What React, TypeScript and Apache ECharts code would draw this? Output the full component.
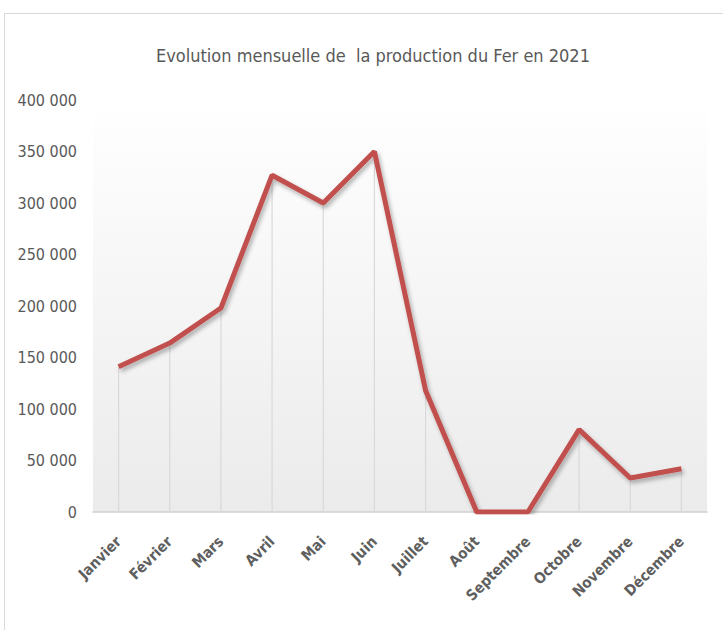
import React, { useEffect, useRef } from "react";
import * as echarts from "echarts";

const titleText = "Evolution mensuelle de  la production du Fer en 2021";
const months = ["Janvier", "Février", "Mars", "Avril", "Mai", "Juin", "Juillet", "Août", "Septembre", "Octobre", "Novembre", "Décembre"];
const production = [141000, 164000, 198000, 327000, 300000, 350000, 118000, 0, 0, 80000, 33000, 42000];
const yMin = 0;
const yMax = 400000;
const yStep = 50000;

const fmt = (v: number) => String(v).replace(/\B(?=(\d{3})+(?!\d))/g, " ");

export default function App() {
  const ref = useRef<HTMLDivElement>(null);
  useEffect(() => {
    if (!ref.current) return;
    const chart = echarts.init(ref.current, null, { renderer: "svg" });
    const font = "'DejaVu Sans Condensed', 'Open Sans', sans-serif";
    chart.setOption({
      animation: false,
      backgroundColor: "#ffffff",
      title: {
        text: titleText,
        left: 368,
        textAlign: "center",
        top: 41,
        textStyle: { color: "#595959", fontSize: 18, fontWeight: "normal", fontFamily: font },
      },
      graphic: [
        {
          type: "rect",
          shape: { x: 4.5, y: 13.5, width: 740, height: 640 },
          style: { fill: "none", stroke: "#d9d9d9", lineWidth: 1 },
          silent: true,
          z: -1,
        },
      ],
      grid: {
        left: 93,
        right: 16,
        top: 100,
        bottom: 118,
        show: true,
        borderWidth: 0,
        backgroundColor: new echarts.graphic.LinearGradient(0, 0, 0, 1, [
          { offset: 0, color: "#ffffff" },
          { offset: 1, color: "#ebebeb" },
        ]),
      },
      xAxis: {
        type: "category",
        data: months,
        boundaryGap: true,
        axisLine: { show: true, lineStyle: { color: "#d0d0d0", width: 1.5 } },
        axisTick: { show: false },
        axisLabel: {
          rotate: 45,
          interval: 0,
          color: "#5f5f5f",
          fontSize: 15,
          fontWeight: "bold",
          fontFamily: font,
          margin: 27,
        },
      },
      yAxis: {
        type: "value",
        min: yMin,
        max: yMax,
        interval: yStep,
        axisLine: { show: false },
        axisTick: { show: false },
        splitLine: { show: false },
        axisLabel: {
          color: "#595959",
          fontSize: 16,
          fontFamily: font,
          margin: 16,
          formatter: (v: number) => fmt(v),
        },
      },
      series: [
        {
          type: "bar",
          data: production,
          barWidth: 1.2,
          itemStyle: { color: "#d9d9d9" },
          silent: true,
          z: 1,
        },
        {
          type: "line",
          data: production,
          symbol: "none",
          lineStyle: {
            color: "#c0504d",
            width: 5,
            shadowColor: "rgba(0,0,0,0.3)",
            shadowBlur: 4,
            shadowOffsetX: 2,
            shadowOffsetY: 3,
          },
          z: 3,
        },
      ],
    });
    return () => chart.dispose();
  }, []);
  return <div ref={ref} style={{ width: 723, height: 630, position: "absolute", left: 0, top: 0 }} />;
}
